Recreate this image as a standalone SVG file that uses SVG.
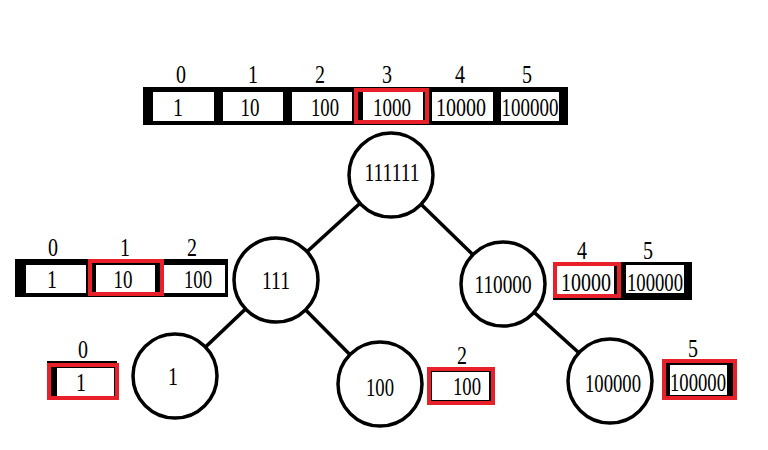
<svg xmlns="http://www.w3.org/2000/svg" width="768" height="450" viewBox="0 0 768 450">
<style>
text{font-family:"Liberation Serif","Times New Roman",serif;font-size:25px;fill:#000;text-anchor:middle}
.node{fill:#fff;stroke:#000;stroke-width:3.5}
.edge{stroke:#000;stroke-width:3.5}
.blk{fill:#000}
.cell{fill:#fff}
.red{fill:none;stroke:#e8202a;stroke-width:4}
</style>
<rect width="768" height="450" fill="#fff"/>
<g id="connectors">
<line class="edge" x1="391" y1="175" x2="276" y2="280"/>
<line class="edge" x1="391" y1="175" x2="503" y2="284"/>
<line class="edge" x1="276" y1="280" x2="175" y2="376"/>
<line class="edge" x1="276" y1="280" x2="380" y2="385"/>
<line class="edge" x1="503" y1="284" x2="610" y2="381"/>
</g>
<g id="array-top">
<rect class="blk" x="143" y="87" width="425" height="38"/>
<rect class="cell" x="153" y="92" width="61" height="29"/>
<rect class="cell" x="223" y="92" width="60" height="29"/>
<rect class="cell" x="292" y="92" width="60" height="29"/>
<rect class="cell" x="363" y="92" width="60" height="29"/>
<rect class="cell" x="432" y="92" width="61" height="29"/>
<rect class="cell" x="501" y="92" width="58" height="29"/>
<rect class="red" x="356" y="90" width="71" height="32"/>
<text x="181" y="83" textLength="10" lengthAdjust="spacingAndGlyphs">0</text><text x="253" y="83" textLength="10" lengthAdjust="spacingAndGlyphs">1</text><text x="320" y="83" textLength="10" lengthAdjust="spacingAndGlyphs">2</text><text x="387" y="83" textLength="10" lengthAdjust="spacingAndGlyphs">3</text><text x="460" y="83" textLength="10" lengthAdjust="spacingAndGlyphs">4</text><text x="527" y="83" textLength="10" lengthAdjust="spacingAndGlyphs">5</text>
<text x="178" y="116" textLength="10" lengthAdjust="spacingAndGlyphs">1</text>
<text x="250" y="116" textLength="19" lengthAdjust="spacingAndGlyphs">10</text>
<text x="325" y="116" textLength="28" lengthAdjust="spacingAndGlyphs">100</text>
<text x="392" y="116" textLength="38" lengthAdjust="spacingAndGlyphs">1000</text>
<text x="461" y="116" textLength="50" lengthAdjust="spacingAndGlyphs">10000</text>
<text x="530" y="116" textLength="57" lengthAdjust="spacingAndGlyphs">100000</text>
</g>
<g id="array-left">
<rect class="blk" x="15" y="259" width="213" height="38"/>
<rect class="cell" x="26" y="265" width="60" height="28"/>
<rect class="cell" x="96" y="265" width="59" height="28"/>
<rect class="cell" x="164" y="265" width="61" height="28"/>
<rect class="red" x="90" y="261" width="72" height="33"/>
<text x="53" y="256" textLength="10" lengthAdjust="spacingAndGlyphs">0</text><text x="125" y="256" textLength="10" lengthAdjust="spacingAndGlyphs">1</text><text x="192" y="256" textLength="10" lengthAdjust="spacingAndGlyphs">2</text>
<text x="52" y="288" textLength="10" lengthAdjust="spacingAndGlyphs">1</text>
<text x="123" y="288" textLength="19" lengthAdjust="spacingAndGlyphs">10</text>
<text x="198" y="288" textLength="28" lengthAdjust="spacingAndGlyphs">100</text>
</g>
<g id="array-right">
<rect class="blk" x="553" y="262" width="139" height="38"/>
<rect class="cell" x="557" y="265" width="57" height="30"/>
<rect class="cell" x="626" y="265" width="58" height="28"/>
<rect class="red" x="555" y="264" width="64" height="32"/>
<text x="582" y="259" textLength="10" lengthAdjust="spacingAndGlyphs">4</text><text x="648" y="259" textLength="10" lengthAdjust="spacingAndGlyphs">5</text>
<text x="586" y="291" textLength="50" lengthAdjust="spacingAndGlyphs">10000</text>
<text x="655" y="291" textLength="56" lengthAdjust="spacingAndGlyphs">100000</text>
</g>
<g id="array-bl">
<rect class="blk" x="47" y="361" width="70" height="38"/>
<rect class="cell" x="57" y="368" width="57" height="28"/>
<rect class="red" x="49" y="365" width="68" height="33"/>
<text x="83" y="358" textLength="10" lengthAdjust="spacingAndGlyphs">0</text>
<text x="81" y="391" textLength="10" lengthAdjust="spacingAndGlyphs">1</text>
</g>
<g id="array-bm">
<rect class="blk" x="430" y="370" width="61" height="32"/>
<rect class="cell" x="432" y="372" width="57" height="28"/>
<rect class="red" x="429" y="369" width="64" height="34"/>
<text x="462" y="364" textLength="10" lengthAdjust="spacingAndGlyphs">2</text>
<text x="467" y="395" textLength="28" lengthAdjust="spacingAndGlyphs">100</text>
</g>
<g id="array-br">
<rect class="blk" x="666" y="363" width="67" height="34"/>
<rect class="cell" x="670" y="365" width="57" height="30"/>
<rect class="red" x="664" y="361" width="71" height="37"/>
<text x="693" y="357" textLength="10" lengthAdjust="spacingAndGlyphs">5</text>
<text x="698" y="391" textLength="56" lengthAdjust="spacingAndGlyphs">100000</text>
</g>
<g id="node-111111"><circle class="node" cx="391" cy="175" r="42"/><text x="392" y="181" textLength="55" lengthAdjust="spacingAndGlyphs">111111</text></g>
<g id="node-111"><circle class="node" cx="276" cy="280" r="42"/><text x="276" y="289" textLength="28" lengthAdjust="spacingAndGlyphs">111</text></g>
<g id="node-110000"><circle class="node" cx="503" cy="284" r="42"/><text x="503" y="293" textLength="57" lengthAdjust="spacingAndGlyphs">110000</text></g>
<g id="node-1"><circle class="node" cx="175" cy="376" r="42"/><text x="173" y="385" textLength="10" lengthAdjust="spacingAndGlyphs">1</text></g>
<g id="node-100"><circle class="node" cx="380" cy="384" r="42"/><text x="380" y="396" textLength="28" lengthAdjust="spacingAndGlyphs">100</text></g>
<g id="node-100000"><circle class="node" cx="610" cy="381" r="42"/><text x="613" y="392" textLength="56" lengthAdjust="spacingAndGlyphs">100000</text></g>
</svg>
